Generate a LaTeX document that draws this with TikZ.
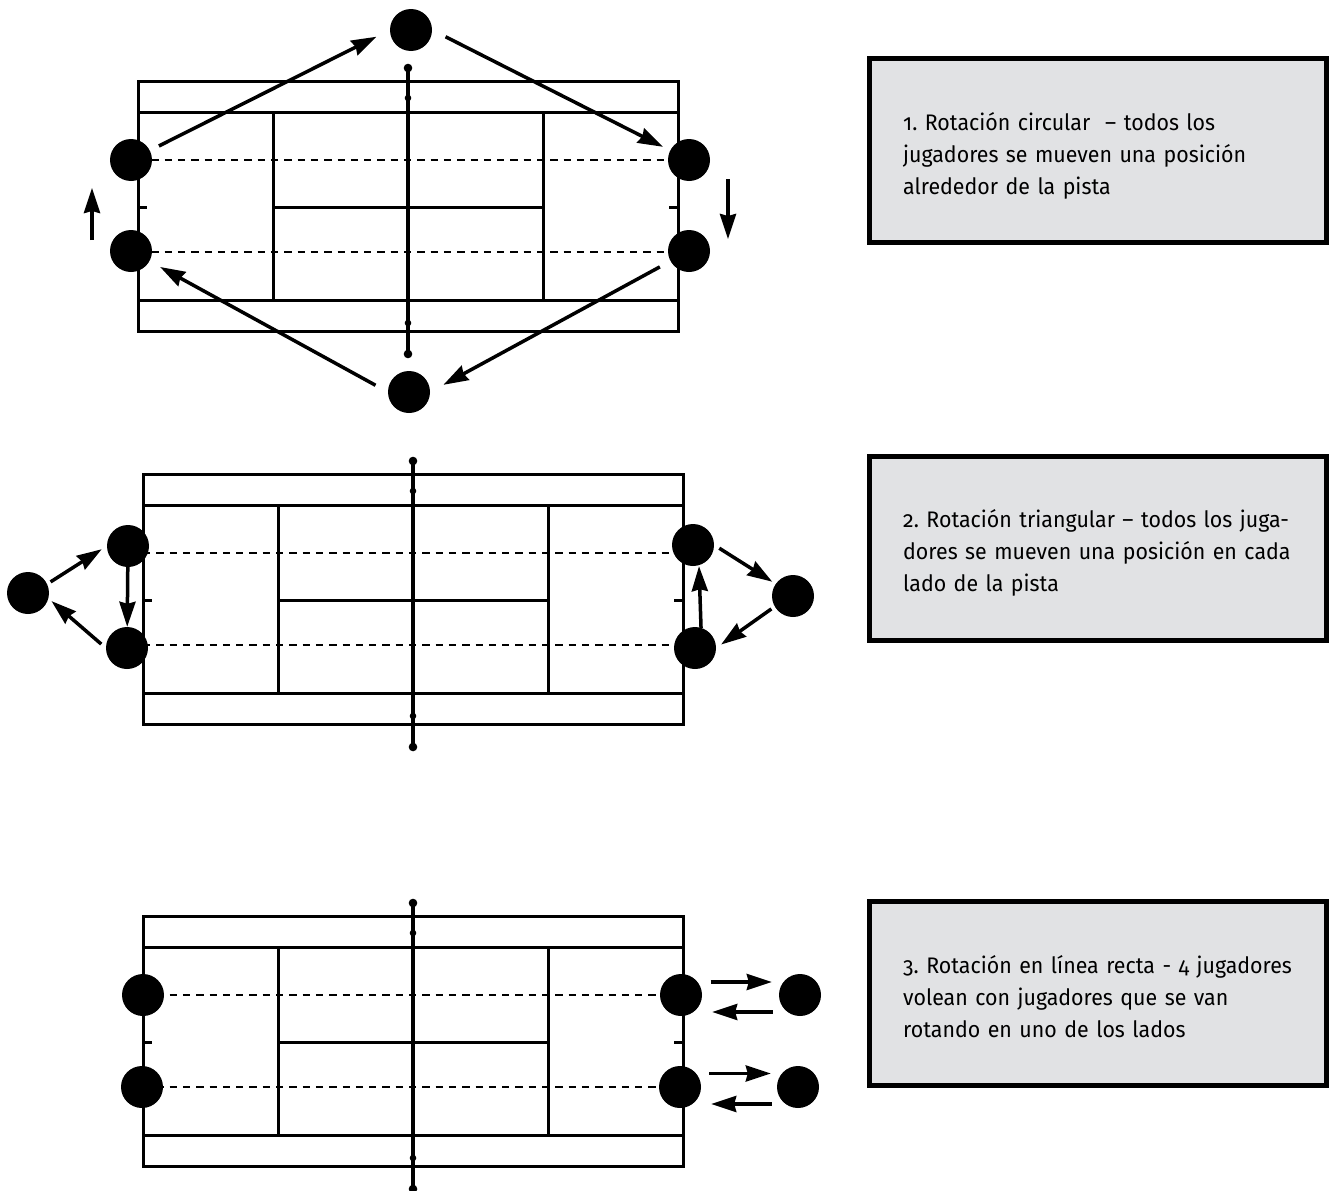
\documentclass[tikz,border=0pt]{standalone}
\usepackage{fontspec}
\setmainfont{Fira Sans}[Numbers=OldStyle,FakeStretch=0.95]
\usetikzlibrary{arrows.meta}
\definecolor{boxgray}{RGB}{225,226,228}
\frenchspacing

\begin{document}
\begin{tikzpicture}[x=1pt,y=-1pt,
  court/.style={line width=3pt},
  ball/.style={line width=2.8pt,dash pattern=on 7.3pt off 6pt},
  player/.style={circle,fill=black,inner sep=0pt,minimum size=42pt},
  arr/.style={line width=3.5pt,-{Stealth[length=25pt,width=16pt,inset=2pt]}},
  infobox/.style={draw,line width=5pt,fill=boxgray,minimum width=457pt,
    minimum height=184pt},
  caption/.style={anchor=base west,inner sep=0pt,text width=420pt,
    align=left,font=\fontsize{22.5}{32}\selectfont}]
  \useasboundingbox (0,0) rectangle (1336,1191);

  % the three courts
  \foreach \cx/\cy in {138/81,143/474,143/916}{
    \begin{scope}[shift={(\cx,\cy)}]
      \draw[court] (0,0) rectangle (540,250);
      \draw[court] (0,31.5) -- (540,31.5) (0,219) -- (540,219);
      \draw[court] (135,31.5) -- (135,219) (405,31.5) -- (405,219);
      \draw[court] (135,126) -- (405,126);
      \draw[court] (0,126) -- (9,126) (531,126) -- (540,126);
      \draw[ball] (0,79) -- (540,79) (0,171) -- (540,171);
      \draw[line width=3.8pt] (270,-13) -- (270,273);
      \fill (270,-13) circle (4.3pt) (270,273) circle (4.3pt)
        (270,17) circle (3.3pt) (270,242) circle (3.3pt);
    \end{scope}
  }

  % players
  \foreach \name/\x/\y in {c1lt/131/160,c1lb/131/251,c1rt/689/160,
    c1rb/689/251,c1t/411/30,c1b/409/392,
    c2lt/128/546,c2lb/127/648,c2x/28/593,
    c2rt/693/545,c2rb/695/648,c2y/793/596,
    c3lt/143/995,c3lb/142/1087,c3rt/681/995,
    c3rb/680/1087,c3et/800/995,c3eb/798/1087}{
    \node[player] (\name) at (\x,\y) {};
  }

  % circular rotation
  \draw[arr,shorten <=10pt,shorten >=15pt] (c1lt) -- (c1t.west);
  \draw[arr,shorten <=15pt,shorten >=8pt] (c1t.east) -- (c1rt);
  \draw[arr,shorten <=19pt,shorten >=12pt]
    ([xshift=39pt]c1rt.center) -- ([xshift=39pt]c1rb.center);
  \draw[arr,shorten <=12pt,shorten >=15pt] (c1rb) -- (c1b.east);
  \draw[arr,shorten <=14pt,shorten >=12pt] (c1b.west) -- (c1lb);
  \draw[arr,shorten <=11pt,shorten >=28pt]
    ([xshift=-39pt]c1lb.center) -- ([xshift=-39pt]c1lt.center);

  % triangular rotation
  \draw[arr,shorten <=4pt,shorten >=6pt] (c2x.25) -- (c2lt.west);
  \draw[arr] (c2lt) -- (c2lb);
  \draw[arr,shorten <=6pt,shorten >=4pt] (c2lb.west) -- (c2x.-15);
  \draw[arr,shorten <=6pt,shorten >=4pt] (c2rt.east) -- (c2y.145);
  \draw[arr,shorten <=4pt,shorten >=6pt] (c2y.210) -- (c2rb.east);
  \draw[arr,shorten <=-1pt]
    ([xshift=6pt]c2rb.north) -- ([xshift=6pt]c2rt.south);

  % straight line rotation
  \draw[arr,shorten <=8.5pt,shorten >=7pt]
    ([yshift=13pt]c3rt.east) -- ([yshift=13pt]c3et.west);
  \draw[arr,shorten <=6pt,shorten >=10pt]
    ([yshift=-17pt]c3et.west) -- ([yshift=-17pt]c3rt.east);
  \draw[arr,shorten <=8pt,shorten >=6pt]
    ([yshift=13.5pt]c3rb.east) -- ([yshift=13.5pt]c3eb.west);
  \draw[arr,shorten <=5pt,shorten >=10pt]
    ([yshift=-17pt]c3eb.west) -- ([yshift=-17pt]c3rb.east);

  % captions
  \node[infobox] (box1) at (1097.5,150.5) {};
  \node[infobox] (box2) at (1097.5,548.7) {};
  \node[infobox] (box3) at (1097.5,993.7) {};
  \node[caption] (cap1) at (903,130)
    {1. Rotación circular \ – todos los\\jugadores se mueven una posición\\alrededor de la pista};
  \node[caption] (cap2) at (903,527)
    {2. Rotación triangular – todos los juga-\\dores se mueven una posición en cada\\lado de la pista};
  \node[caption] (cap3) at (903,973)
    {3. Rotación en línea recta - 4 jugadores\\volean con jugadores que se van\\rotando en uno de los lados};
\end{tikzpicture}
\end{document}
